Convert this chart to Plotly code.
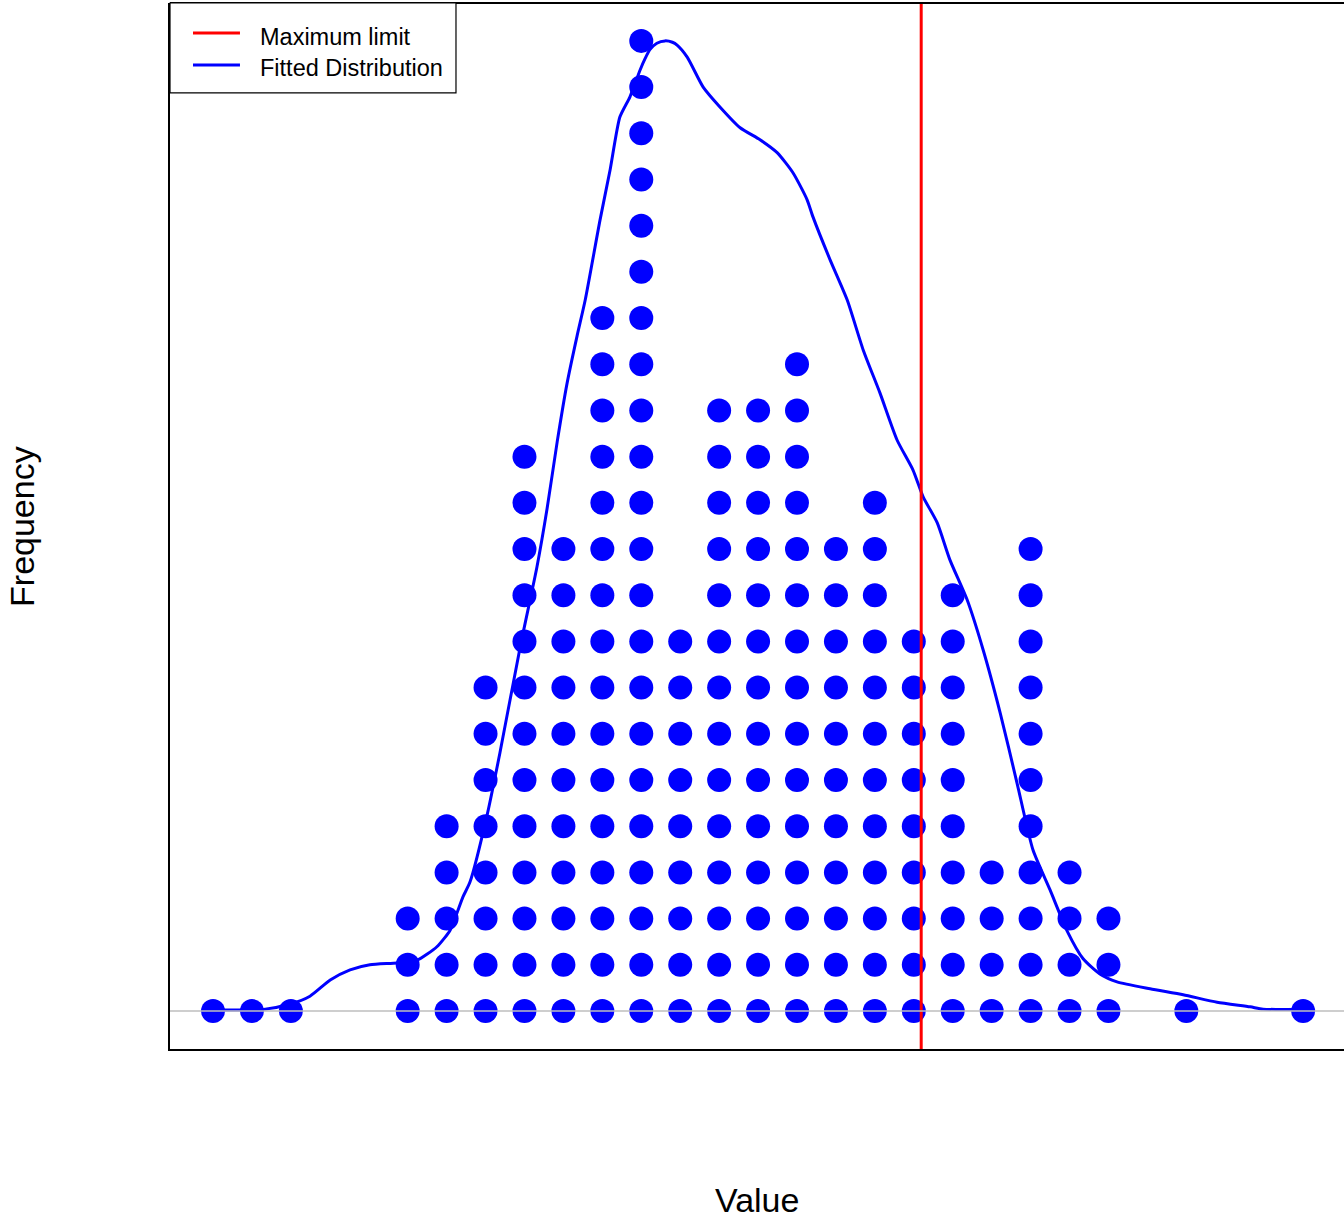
import plotly.graph_objects as go

# ---- data ----
bin_values = [0, 1, 2, 5, 6, 7, 8, 9, 10, 11, 12, 13, 14, 15, 16, 17, 18, 19, 20, 21, 22, 23, 25, 28]
bin_counts = [1, 1, 1, 3, 5, 8, 13, 11, 16, 22, 9, 14, 14, 15, 11, 12, 9, 10, 4, 11, 4, 3, 1, 1]

max_limit = 18.19

fit_x = [0.00, 1.34, 1.98, 2.49, 3.01, 3.52, 4.03, 4.73, 5.24, 5.75, 6.09, 6.42, 6.60, 7.04,
         7.37, 7.89, 8.32, 8.58, 8.84, 9.09, 9.35, 9.56, 9.94, 10.20, 10.45, 10.71, 10.97,
         11.10, 11.22, 11.40, 11.61, 11.80, 11.92, 12.18, 12.59, 13.02, 13.54, 14.05, 14.49,
         14.90, 15.26, 15.41, 15.85, 16.29, 16.70, 17.13, 17.57, 17.98, 18.24, 18.60, 18.93,
         19.37, 19.78, 20.22, 20.65, 21.06, 21.50, 21.94, 22.35, 22.78, 23.22, 24.07, 24.92,
         25.79, 26.64, 26.97, 28.00]
fit_y = [0.02, 0.04, 0.15, 0.32, 0.67, 0.89, 1.00, 1.04, 1.10, 1.39, 1.75, 2.47, 2.79, 4.24,
         5.59, 7.88, 9.61, 10.87, 12.32, 13.57, 14.61, 15.39, 17.12, 18.21, 19.35, 19.79, 20.37,
         20.62, 20.81, 20.95, 21.00, 20.97, 20.91, 20.65, 20.00, 19.57, 19.12, 18.86, 18.58,
         18.14, 17.56, 17.19, 16.26, 15.39, 14.31, 13.38, 12.36, 11.71, 11.13, 10.57, 9.76,
         8.90, 7.82, 6.45, 4.94, 3.49, 2.62, 1.73, 1.13, 0.80, 0.63, 0.48, 0.35,
         0.19, 0.09, 0.04, 0.04]

legend_labels = ["Maximum limit", "Fitted Distribution"]
legend_colors = ["#ff0000", "#0000ff"]

x_range = [-1.105, 29.05]
y_range = [-0.823, 21.82]

# ---- build dot stacks ----
dot_x, dot_y = [], []
for v, c in zip(bin_values, bin_counts):
    for k in range(c):
        dot_x.append(v)
        dot_y.append(k)

FONT = "Arial, Liberation Sans, sans-serif"

fig = go.Figure()
fig.add_trace(go.Scatter(x=dot_x, y=dot_y, mode="markers",
                         marker=dict(size=24, color="#0000ff", line=dict(width=0)),
                         showlegend=False, hoverinfo="skip"))
fig.add_trace(go.Scatter(x=fit_x, y=fit_y, mode="lines", name="Fitted Distribution",
                         line=dict(color="#0000ff", width=3, shape="spline", smoothing=0.6),
                         showlegend=False))

# red limit line
fig.add_shape(type="line", xref="x", yref="paper", x0=max_limit, x1=max_limit, y0=0, y1=1,
              line=dict(color="#ff0000", width=3), layer="above")
# gray zero baseline
fig.add_shape(type="line", xref="paper", yref="y", x0=0, x1=1, y0=0, y1=0,
              line=dict(color="#bebebe", width=1.5), layer="above")
# top border
fig.add_shape(type="line", xref="paper", yref="paper", x0=0, x1=1, y0=1, y1=1,
              line=dict(color="black", width=2), layer="above")

# ---- manual legend ----
fig.add_shape(type="rect", xref="paper", yref="paper", x0=0, x1=0.2436, y0=0.9140, y1=1,
              line=dict(color="black", width=1.2), fillcolor="white", layer="above")
legend_line_y = [0.9713, 0.9407]
legend_text_y = [0.9675, 0.9379]
annotations = []
for lab, col, ly, ty in zip(legend_labels, legend_colors, legend_line_y, legend_text_y):
    fig.add_shape(type="line", xref="paper", yref="paper", x0=0.0196, x1=0.0596, y0=ly, y1=ly,
                  line=dict(color=col, width=3), layer="above")
    annotations.append(dict(text=lab, xref="paper", yref="paper", x=0.0750, y=ty,
                            xanchor="left", yanchor="middle", showarrow=False,
                            font=dict(size=23.5, family=FONT, color="black")))

annotations += [
    dict(text="Value", xref="paper", yref="paper", x=0.5, y=-0.1444,
         xanchor="center", yanchor="middle", showarrow=False,
         font=dict(size=34, family=FONT, color="black")),
    dict(text="Frequency", xref="paper", yref="paper", x=-0.1261, y=0.5,
         xanchor="center", yanchor="middle", textangle=-90, showarrow=False,
         font=dict(size=34, family=FONT, color="black")),
]

fig.update_layout(
    width=1344, height=1218,
    margin=dict(l=170, r=0, t=3, b=169),
    paper_bgcolor="white", plot_bgcolor="white",
    font=dict(family=FONT, color="black"),
    showlegend=False,
    hovermode=False,
    xaxis=dict(range=x_range, showgrid=False, zeroline=False, showticklabels=False,
               ticks="", showline=True, linecolor="black", linewidth=2),
    yaxis=dict(range=y_range, showgrid=False, zeroline=False, showticklabels=False,
               ticks="", showline=True, linecolor="black", linewidth=2),
    annotations=annotations,
)

fig.write_html("out.html", config={"displayModeBar": False},
               post_script="document.body.style.margin='0';document.body.style.overflow='hidden';")
